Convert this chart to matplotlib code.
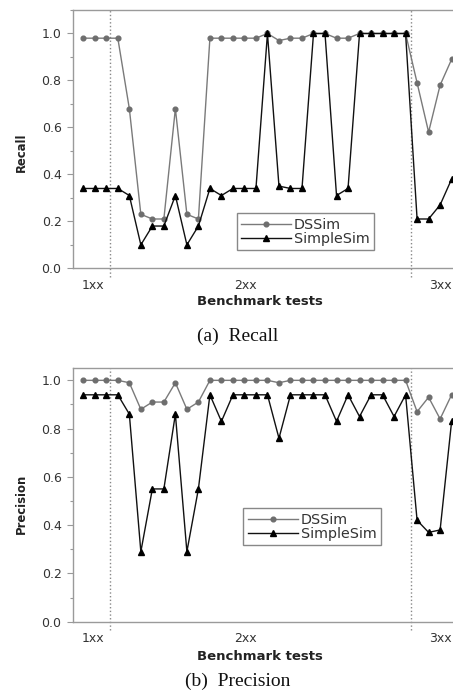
import numpy as np
import matplotlib
matplotlib.use('Agg')
import matplotlib.pyplot as plt
from matplotlib.ticker import MultipleLocator, FormatStrFormatter

plt.rcParams['font.family'] = ['DejaVu Sans']

# benchmark test index 0..32
tests = np.arange(33)

recall_dssim = [0.98, 0.98, 0.98, 0.98, 0.68, 0.23, 0.21, 0.21, 0.68, 0.23, 0.21,
                0.98, 0.98, 0.98, 0.98, 0.98, 1.00, 0.97, 0.98, 0.98, 1.00, 1.00,
                0.98, 0.98, 1.00, 1.00, 1.00, 1.00, 1.00, 0.79, 0.58, 0.78, 0.89]
recall_simple = [0.34, 0.34, 0.34, 0.34, 0.31, 0.10, 0.18, 0.18, 0.31, 0.10, 0.18,
                 0.34, 0.31, 0.34, 0.34, 0.34, 1.00, 0.35, 0.34, 0.34, 1.00, 1.00,
                 0.31, 0.34, 1.00, 1.00, 1.00, 1.00, 1.00, 0.21, 0.21, 0.27, 0.38]

prec_dssim = [1.00, 1.00, 1.00, 1.00, 0.99, 0.88, 0.91, 0.91, 0.99, 0.88, 0.91,
              1.00, 1.00, 1.00, 1.00, 1.00, 1.00, 0.99, 1.00, 1.00, 1.00, 1.00,
              1.00, 1.00, 1.00, 1.00, 1.00, 1.00, 1.00, 0.87, 0.93, 0.84, 0.94]
prec_simple = [0.94, 0.94, 0.94, 0.94, 0.86, 0.29, 0.55, 0.55, 0.86, 0.29, 0.55,
               0.94, 0.83, 0.94, 0.94, 0.94, 0.94, 0.76, 0.94, 0.94, 0.94, 0.94,
               0.83, 0.94, 0.85, 0.94, 0.94, 0.85, 0.94, 0.42, 0.37, 0.38, 0.83]

group_labels = ['1xx', '2xx', '3xx']
group_label_pos = [0.84, 14.06, 31.0]
group_bounds = [2.35, 28.45]

fig = plt.figure(figsize=(4.53, 7.0), dpi=100)

# ── panels ──────────────────────────────────────
panels = [
    dict(rect=[0.1605, 0.6167, 0.855, 0.369], ytop=1.1, ylabel='Recall',
         dss=recall_dssim, simple=recall_simple, ylab_y=0.45, xlab_y=-0.127,
         leg=(0.4234, 0.0709), caption='(a)  Recall', cap_y=1 - 336 / 700),
    dict(rect=[0.1605, 0.1119, 0.855, 0.362], ytop=1.05, ylabel='Precision',
         dss=prec_dssim, simple=prec_simple, ylab_y=0.464, xlab_y=-0.138,
         leg=(0.4405, 0.3027), caption='(b)  Precision', cap_y=1 - 681.7 / 700),
]

for p in panels:
    ax = fig.add_axes(p['rect'])
    ax.plot(tests, p['dss'], color='#7a7a7a', lw=1.0, marker='o', ms=3.4,
            mec='#6e6e6e', mfc='#6e6e6e', label='DSSim', zorder=3)
    ax.plot(tests, p['simple'], color='#111111', lw=1.0, marker='^', ms=4.2,
            mec='#000000', mfc='#000000', label='SimpleSim', zorder=4)

    for b in group_bounds:
        ax.axvline(b, ymin=-0.033, ymax=1.0, color='#888888', ls=':', lw=1.0,
                   clip_on=False, zorder=2)

    ax.set_xlim(-0.92, 32.73)
    ax.set_ylim(0, p['ytop'])

    ax.yaxis.set_major_locator(MultipleLocator(0.2))
    ax.yaxis.set_minor_locator(MultipleLocator(0.1))
    ax.yaxis.set_major_formatter(FormatStrFormatter('%.1f'))
    ax.tick_params(axis='y', which='major', length=4, width=0.8, color='#999999',
                   labelsize=9, labelcolor='#333333', pad=4)
    ax.tick_params(axis='y', which='minor', length=2, width=0.8, color='#999999')

    ax.set_xticks(group_label_pos)
    ax.set_xticklabels(group_labels)
    ax.tick_params(axis='x', length=0, labelsize=9, labelcolor='#333333', pad=7.5)

    for s in ax.spines.values():
        s.set_color('#9a9a9a')
        s.set_linewidth(1.0)

    ax.set_ylabel(p['ylabel'], fontsize=8.4, fontweight='bold', color='#222222')
    ax.yaxis.set_label_coords(-0.1317, p['ylab_y'])
    ax.yaxis.label.set_va('center')
    ax.set_xlabel('Benchmark tests', fontsize=9.5, fontweight='bold', color='#222222')
    ax.xaxis.set_label_coords(0.4836, p['xlab_y'])
    ax.xaxis.label.set_va('center')

    leg = ax.legend(loc='lower left', bbox_to_anchor=p['leg'], borderaxespad=0,
                    fontsize=10.3, handlelength=3.5, handletextpad=0.2,
                    labelspacing=0.0, borderpad=0.3, numpoints=1,
                    fancybox=False, framealpha=1)
    leg.get_frame().set_edgecolor('#888888')
    leg.get_frame().set_linewidth(1.0)
    for t in leg.get_texts():
        t.set_color('#333333')

    fig.text(238 / 453, p['cap_y'], p['caption'], family='Liberation Serif',
             fontsize=14, ha='center', va='center', color='#111111')

fig.savefig('out.png', dpi=100)
